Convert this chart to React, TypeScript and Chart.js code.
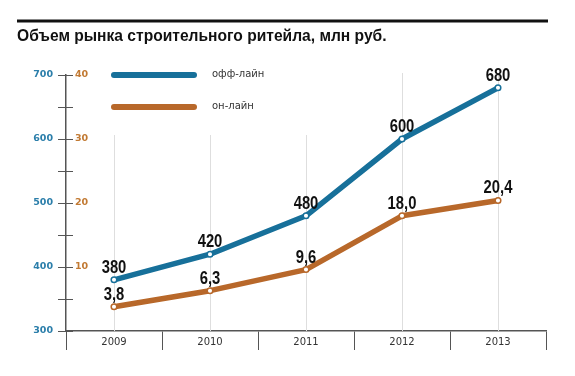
import React, { useEffect, useRef } from "react";
import { Chart, registerables } from "chart.js";

Chart.register(...registerables);

const years = ["2009", "2010", "2011", "2012", "2013"];
const offline = [380, 420, 480, 600, 680];
const online = [3.8, 6.3, 9.6, 18.0, 20.4];
const offlineTickLabels = [300, 400, 500, 600, 700];
const onlineTickLabels = [10, 20, 30, 40];
const seriesNames = ["офф-лайн", "он-лайн"];
const titleText = "Объем рынка строительного ритейла, млн руб.";

const BLUE = "#17709a";
const ORANGE = "#b8682a";
const BLUE_TEXT = "#2b7eaa";
const ORANGE_TEXT = "#c27a33";
const AXIS = "#555555";

const decor = {
  id: "decor",
  beforeDraw(chart: any) {
    const ctx = chart.ctx;
    ctx.save();
    ctx.fillStyle = "#111";
    ctx.fillRect(17, 19.5, 531, 3);
    ctx.restore();
  },
  beforeDatasetsDraw(chart: any) {
    const { ctx, chartArea, scales } = chart;
    const x = scales.x;
    const y = scales.y;
    const y2 = scales.y2;
    ctx.save();
    ctx.strokeStyle = "#dedede";
    ctx.lineWidth = 1;
    years.forEach((_, i) => {
      const px = Math.round(x.getPixelForValue(i)) + 0.5;
      const top = i < 3 ? chartArea.top + 60 : chartArea.top - 2;
      ctx.beginPath();
      ctx.moveTo(px, top);
      ctx.lineTo(px, chartArea.bottom);
      ctx.stroke();
    });
    ctx.strokeStyle = AXIS;
    ctx.lineWidth = 1;
    y.ticks.forEach((t: any) => {
      const py = Math.round(y.getPixelForValue(t.value)) + 0.5;
      ctx.beginPath();
      ctx.moveTo(chartArea.left, py);
      ctx.lineTo(chartArea.left + 7, py);
      ctx.stroke();
    });
    ctx.fillStyle = ORANGE_TEXT;
    ctx.font = "bold 9.5px 'DejaVu Sans', sans-serif";
    ctx.textAlign = "left";
    ctx.textBaseline = "middle";
    onlineTickLabels.forEach((v) => {
      ctx.fillText(String(v), chartArea.left + 9, y2.getPixelForValue(v));
    });
    chart.data.datasets.forEach((ds: any, i: number) => {
      const ly = chartArea.top + i * 32;
      ctx.strokeStyle = ds.borderColor;
      ctx.lineWidth = 6;
      ctx.lineCap = "round";
      ctx.beginPath();
      ctx.moveTo(chartArea.left + 48, ly);
      ctx.lineTo(chartArea.left + 128, ly);
      ctx.stroke();
      ctx.fillStyle = "#333";
      ctx.font = "10px 'DejaVu Sans', sans-serif";
      ctx.textAlign = "left";
      ctx.textBaseline = "middle";
      ctx.fillText(ds.label, chartArea.left + 146, ly - 1);
    });
    ctx.restore();
  },
  afterDatasetsDraw(chart: any) {
    const ctx = chart.ctx;
    const sx = 0.8;
    chart.data.datasets.forEach((ds: any, di: number) => {
      const meta = chart.getDatasetMeta(di);
      meta.data.forEach((pt: any, i: number) => {
        const v = ds.data[i];
        const txt = di === 0 ? String(v) : v.toFixed(1).replace(".", ",");
        ctx.save();
        ctx.font = "bold 18.5px 'Liberation Sans', Arial, sans-serif";
        ctx.fillStyle = "#111";
        ctx.textAlign = "center";
        ctx.textBaseline = "alphabetic";
        ctx.translate(pt.x, pt.y - 7);
        ctx.scale(sx, 1);
        ctx.fillText(txt, 0, 0);
        ctx.restore();
      });
    });
  },
};

export default function App() {
  const ref = useRef<HTMLCanvasElement | null>(null);
  useEffect(() => {
    if (!ref.current) return;
    const chart = new Chart(ref.current, {
      type: "line",
      data: {
        labels: years,
        datasets: [
          {
            label: seriesNames[0],
            data: offline,
            yAxisID: "y",
            borderColor: BLUE,
            backgroundColor: BLUE,
            borderWidth: 5.5,
            pointRadius: 2.8,
            pointBackgroundColor: "#fff",
            pointBorderColor: BLUE,
            pointBorderWidth: 1.5,
            tension: 0,
            borderJoinStyle: "round",
            borderCapStyle: "round",
          },
          {
            label: seriesNames[1],
            data: online,
            yAxisID: "y2",
            borderColor: ORANGE,
            backgroundColor: ORANGE,
            borderWidth: 5.5,
            pointRadius: 2.8,
            pointBackgroundColor: "#fff",
            pointBorderColor: ORANGE,
            pointBorderWidth: 1.5,
            tension: 0,
            borderJoinStyle: "round",
            borderCapStyle: "round",
          },
        ],
      },
      options: {
        animation: false,
        responsive: true,
        maintainAspectRatio: false,
        layout: { padding: { left: 17, right: 29, top: 0, bottom: 0 } },
        plugins: {
          legend: { display: false },
          tooltip: { enabled: false },
          title: {
            display: true,
            text: titleText,
            align: "start",
            color: "#111",
            font: { family: "'Liberation Sans', Arial, sans-serif", weight: "bold", size: 15.6, lineHeight: 1.2 },
            padding: { top: 27.6, bottom: 28.7 },
          },
        },
        scales: {
          x: {
            type: "category",
            offset: true,
            grid: { offset: true, drawOnChartArea: false, drawTicks: true, tickLength: 19, color: AXIS, lineWidth: 1 },
            border: { display: true, color: AXIS, width: 1.5 },
            ticks: { color: "#333", font: { family: "'DejaVu Sans', sans-serif", size: 10 }, padding: -14, maxRotation: 0 },
            afterFit: (s: any) => { s.height = 45; },
          },
          y: {
            position: "left",
            min: 300,
            max: 700,
            ticks: {
              stepSize: 50,
              color: BLUE_TEXT,
              font: { family: "'DejaVu Sans', sans-serif", size: 9.5, weight: "bold" },
              padding: 5,
              callback: (v: any) => (offlineTickLabels.includes(Number(v)) ? String(v) : ""),
            },
            grid: { drawOnChartArea: false, drawTicks: true, tickLength: 8, color: AXIS },
            border: { display: true, color: AXIS, width: 1.5 },
            afterFit: (s: any) => { s.width = 49; },
          },
          y2: {
            display: false,
            position: "left",
            min: 0,
            max: 40,
          },
        },
      },
      plugins: [decor],
    } as any);
    return () => chart.destroy();
  }, []);
  return (
    <div style={{ position: "absolute", left: 0, top: 0, width: 575, height: 376, background: "#fff" }}>
      <canvas ref={ref} />
    </div>
  );
}
